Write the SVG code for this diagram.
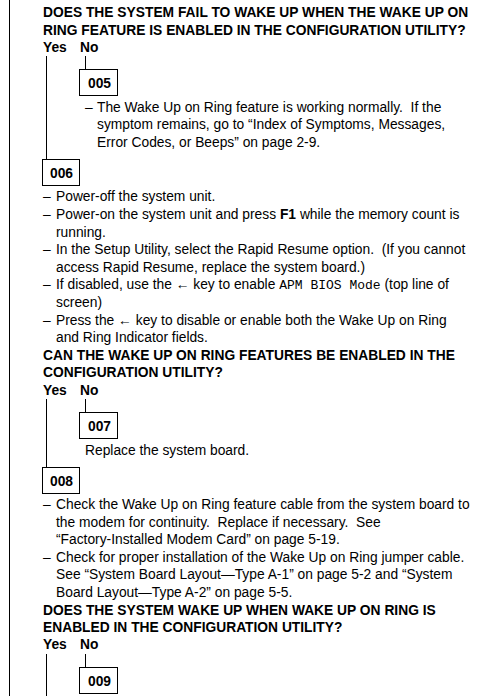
<svg xmlns="http://www.w3.org/2000/svg" width="480" height="696" viewBox="0 0 480 696">
<style>
text{font-family:"Liberation Sans",Arial,Helvetica,sans-serif;font-size:13.8px;fill:#000;white-space:pre}
.b{font-weight:bold;font-size:13.8px}
.m{font-family:"Liberation Mono","Courier New",monospace;font-size:13px}
.box{fill:#fff;stroke:#000;stroke-width:1}
.ln{stroke:#000;stroke-width:1;fill:none}
</style>
<rect width="480" height="696" fill="#fff"/>
<g id="border"><line class="ln" x1="9.5" y1="0" x2="9.5" y2="696"/></g>
<g id="connectors">
<line class="ln" x1="46.5" y1="56" x2="46.5" y2="159"/>
<line class="ln" x1="85.5" y1="56" x2="85.5" y2="69"/>
<line class="ln" x1="46.5" y1="399" x2="46.5" y2="467"/>
<line class="ln" x1="85.5" y1="399" x2="85.5" y2="412"/>
<line class="ln" x1="46.5" y1="654" x2="46.5" y2="696"/>
<line class="ln" x1="85.5" y1="654" x2="85.5" y2="667"/>
</g>
<g id="q1">
<text class="b" x="43" y="17">DOES THE SYSTEM FAIL TO WAKE UP WHEN THE WAKE UP ON</text>
<text class="b" x="43" y="34.6">RING FEATURE IS ENABLED IN THE CONFIGURATION UTILITY?</text>
<text class="b" x="43" y="51.5">Yes</text><text class="b" x="80" y="51.5">No</text>
</g>
<g id="n005">
<rect class="box" x="79.5" y="69.5" width="38" height="26"/>
<text class="b" x="88" y="87.5">005</text>
<text x="85" y="111.7">–<tspan x="97">The Wake Up on Ring feature is working normally.  If the</tspan></text>
<text x="97" y="129.3">symptom remains, go to “Index of Symptoms, Messages,</text>
<text x="97" y="146.9">Error Codes, or Beeps” on page 2-9.</text>
</g>
<g id="n006">
<rect class="box" x="42.5" y="159.5" width="37" height="26"/>
<text class="b" x="50" y="177.5">006</text>
<text x="43" y="201.4">–<tspan x="56">Power-off the system unit.</tspan></text>
<text x="43" y="219">–<tspan x="56">Power-on the system unit and press <tspan class="b">F1</tspan> while the memory count is</tspan></text>
<text x="56" y="236.6">running.</text>
<text x="43" y="254.2">–<tspan x="56">In the Setup Utility, select the Rapid Resume option.  (If you cannot</tspan></text>
<text x="56" y="271.8">access Rapid Resume, replace the system board.)</text>
<text x="43" y="289.4">–<tspan x="56">If disabled, use the ← key to enable <tspan class="m">APM BIOS Mode</tspan> (top line of</tspan></text>
<text x="56" y="307">screen)</text>
<text x="43" y="324.6">–<tspan x="56">Press the ← key to disable or enable both the Wake Up on Ring</tspan></text>
<text x="56" y="342.2">and Ring Indicator fields.</text>
</g>
<g id="q2">
<text class="b" x="43" y="359.8">CAN THE WAKE UP ON RING FEATURES BE ENABLED IN THE</text>
<text class="b" x="43" y="377.4">CONFIGURATION UTILITY?</text>
<text class="b" x="43" y="394.5">Yes</text><text class="b" x="80" y="394.5">No</text>
</g>
<g id="n007">
<rect class="box" x="79.5" y="412.5" width="38" height="26"/>
<text class="b" x="88" y="430.5">007</text>
<text x="85" y="454.5">Replace the system board.</text>
</g>
<g id="n008">
<rect class="box" x="42.5" y="467.5" width="37" height="26"/>
<text class="b" x="50" y="485.5">008</text>
<text x="43" y="509">–<tspan x="56">Check the Wake Up on Ring feature cable from the system board to</tspan></text>
<text x="56" y="526.6">the modem for continuity.  Replace if necessary.  See</text>
<text x="56" y="544.2">“Factory-Installed Modem Card” on page 5-19.</text>
<text x="43" y="561.8">–<tspan x="56">Check for proper installation of the Wake Up on Ring jumper cable.</tspan></text>
<text x="56" y="579.4">See “System Board Layout—Type A-1” on page 5-2 and “System</text>
<text x="56" y="597">Board Layout—Type A-2” on page 5-5.</text>
</g>
<g id="q3">
<text class="b" x="43" y="614.6">DOES THE SYSTEM WAKE UP WHEN WAKE UP ON RING IS</text>
<text class="b" x="43" y="632.2">ENABLED IN THE CONFIGURATION UTILITY?</text>
<text class="b" x="43" y="649.3">Yes</text><text class="b" x="80" y="649.3">No</text>
</g>
<g id="n009">
<rect class="box" x="79.5" y="667.5" width="38" height="26"/>
<text class="b" x="88" y="685.5">009</text>
</g>
</svg>
